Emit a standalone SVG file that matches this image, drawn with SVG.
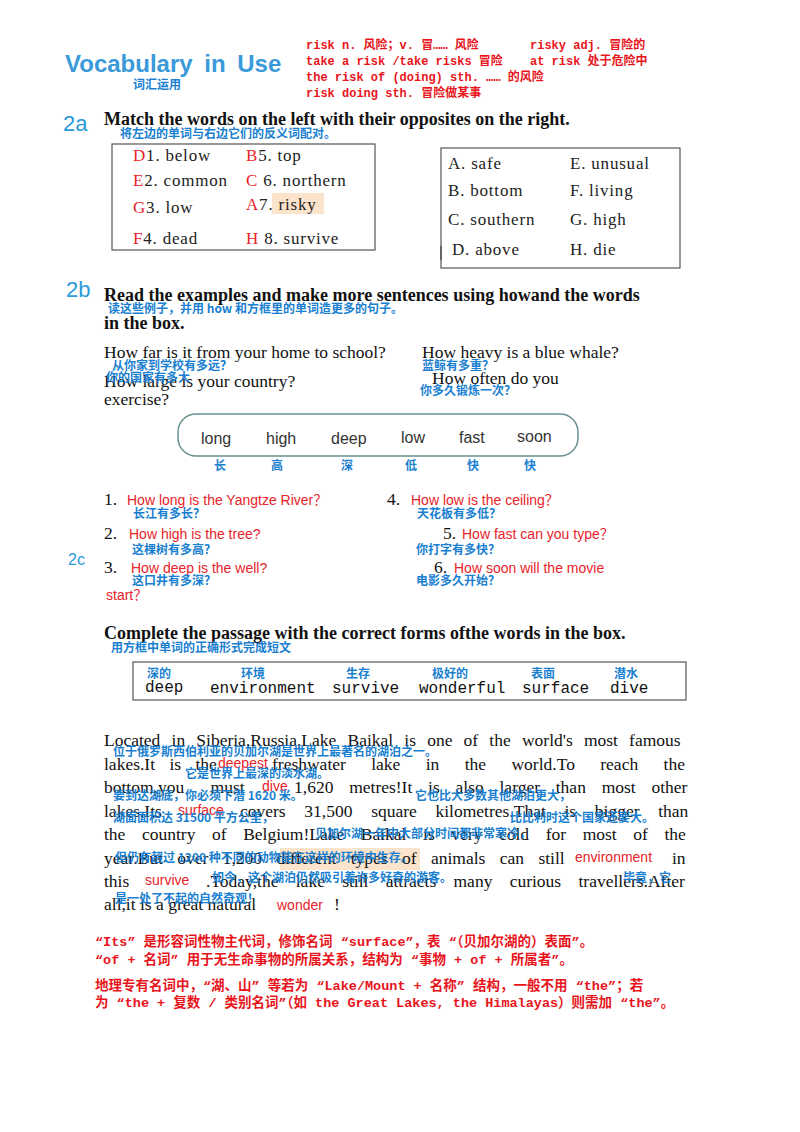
<svg xmlns="http://www.w3.org/2000/svg" width="800" height="1132" viewBox="0 0 800 1132">
<style>
.bg{fill:#fff}
.t{font-family:"Liberation Sans",Arial,sans-serif}
.serif{font-family:"Liberation Serif","Times New Roman",serif;fill:#111}
.bold{font-weight:bold}
.cn{font-family:"Noto Sans CJK SC",sans-serif;font-weight:bold;font-size:12px;fill:#1a7fd0}
.note{font-family:"Liberation Mono","Noto Sans CJK SC",monospace;font-weight:bold;font-size:12px;fill:#e8141b}
.note2{font-family:"Liberation Mono","Noto Sans CJK SC",monospace;font-weight:bold;font-size:13.5px;fill:#e8141b}
.ans{font-family:"Liberation Sans","Noto Sans CJK SC",sans-serif;font-size:14px;fill:#e8232a}
.song{font-family:"Liberation Serif","Noto Sans CJK SC",serif;font-size:17px;fill:#222;letter-spacing:0.8px}
.red{fill:#e8232a}
.box{fill:none;stroke:#555;stroke-width:1.2}
.num{font-family:"Liberation Sans",sans-serif;fill:#2a9ad8}
.pw{font-family:"Liberation Sans",sans-serif;font-size:16px;fill:#333}
.mono{font-family:"Liberation Mono",monospace;font-size:16px;fill:#111}
.p{font-family:"Liberation Serif","Times New Roman",serif;font-size:17.5px;fill:#111}
</style>
<rect class="bg" width="800" height="1132"/>

<g id="header">
<text class="t bold" x="65" y="72" font-size="24" fill="#3a9ad9" word-spacing="5">Vocabulary in Use</text>
<text class="cn" x="133" y="89">词汇运用</text>
<text class="note" x="306" y="49">risk n. 风险；v. 冒…… 风险</text>
<text class="note" x="530" y="49">risky adj. 冒险的</text>
<text class="note" x="306" y="65">take a risk /take risks 冒险</text>
<text class="note" x="530" y="65">at risk 处于危险中</text>
<text class="note" x="306" y="81">the risk of (doing) sth. …… 的风险</text>
<text class="note" x="306" y="97">risk doing sth. 冒险做某事</text>
</g>

<g id="sec2a">
<text class="num" x="63" y="131" font-size="22">2a</text>
<text class="serif bold" x="104" y="125" font-size="18">Match the words on the left with their opposites on the right.</text>
<text class="cn" x="120" y="138">将左边的单词与右边它们的反义词配对。</text>
</g>
<g id="leftbox">
<rect class="box" x="112" y="144" width="263" height="106"/>
<rect x="272" y="193" width="52" height="21" fill="#fbe3cc"/>
<text class="song" x="133" y="161"><tspan class="red">D</tspan>1. below</text>
<text class="song" x="133" y="186"><tspan class="red">E</tspan>2. common</text>
<text class="song" x="133" y="213"><tspan class="red">G</tspan>3. low</text>
<text class="song" x="133" y="244"><tspan class="red">F</tspan>4. dead</text>
<text class="song" x="246" y="161"><tspan class="red">B</tspan>5. top</text>
<text class="song" x="246" y="186"><tspan class="red">C</tspan> 6. northern</text>
<text class="song" x="246" y="210"><tspan class="red">A</tspan>7. risky</text>
<text class="song" x="246" y="244"><tspan class="red">H</tspan> 8. survive</text>
</g>
<g id="rightbox">
<rect class="box" x="441" y="148" width="239" height="120"/>
<line x1="441" y1="246" x2="441" y2="260" stroke="#333"/>
<text class="song" x="448" y="169">A. safe</text>
<text class="song" x="448" y="196">B. bottom</text>
<text class="song" x="448" y="225">C. southern</text>
<text class="song" x="452" y="255">D. above</text>
<text class="song" x="570" y="169">E. unusual</text>
<text class="song" x="570" y="196">F. living</text>
<text class="song" x="570" y="225">G. high</text>
<text class="song" x="570" y="255">H. die</text>
</g>

<g id="sec2b">
<text class="num" x="66" y="297" font-size="22">2b</text>
<text class="serif bold" x="104" y="301" font-size="18">Read the examples and make more sentences using howand the words</text>
<text class="cn" x="108" y="313">读这些例子，并用 how 和方框里的单词造更多的句子。</text>
<text class="serif bold" x="104" y="329" font-size="18">in the box.</text>
<text class="serif" x="104" y="358" font-size="17.5">How far is it from your home to school?</text>
<text class="serif" x="422" y="358" font-size="17.5">How heavy is a blue whale?</text>
<text class="cn" x="112" y="370">从你家到学校有多远？</text>
<text class="cn" x="422" y="370">蓝鲸有多重？</text>
<text class="serif" x="104" y="387" font-size="17.5">How large is your country?</text>
<text class="cn" x="106" y="382">你的国家有多大</text>
<text class="serif" x="432" y="384" font-size="17.5">How often do you</text>
<text class="cn" x="420" y="395">你多久锻炼一次？</text>
<text class="serif" x="104" y="405" font-size="17.5">exercise?</text>
</g>
<g id="wordbox">
<rect x="178" y="414" width="400" height="42" rx="18" fill="none" stroke="#6a9090" stroke-width="1.5"/>
<text class="pw" x="201" y="444">long</text>
<text class="pw" x="266" y="444">high</text>
<text class="pw" x="331" y="444">deep</text>
<text class="pw" x="401" y="443">low</text>
<text class="pw" x="459" y="443">fast</text>
<text class="pw" x="517" y="442">soon</text>
<text class="cn" x="214" y="470">长</text>
<text class="cn" x="271" y="470">高</text>
<text class="cn" x="341" y="470">深</text>
<text class="cn" x="405" y="470">低</text>
<text class="cn" x="467" y="470">快</text>
<text class="cn" x="524" y="470">快</text>
</g>
<g id="answers2b">
<text class="serif" x="104" y="505" font-size="17.5">1.</text>
<text class="ans" x="127" y="505">How long is the Yangtze River？</text>
<text class="cn" x="133" y="518">长江有多长？</text>
<text class="serif" x="387" y="505" font-size="17.5">4.</text>
<text class="ans" x="411" y="505">How low is the ceiling？</text>
<text class="cn" x="417" y="518">天花板有多低？</text>
<text class="serif" x="104" y="539" font-size="17.5">2.</text>
<text class="ans" x="129" y="539">How high is the tree?</text>
<text class="cn" x="132" y="554">这棵树有多高？</text>
<text class="serif" x="443" y="539" font-size="17.5">5.</text>
<text class="ans" x="462" y="539">How fast can you type？</text>
<text class="cn" x="416" y="554">你打字有多快？</text>
<text class="num" x="68" y="565" font-size="16">2c</text>
<text class="serif" x="104" y="573" font-size="17.5">3.</text>
<text class="ans" x="131" y="573">How deep is the well?</text>
<text class="cn" x="132" y="585">这口井有多深？</text>
<text class="serif" x="434" y="573" font-size="17.5">6.</text>
<text class="ans" x="454" y="573">How soon will the movie</text>
<text class="cn" x="416" y="585">电影多久开始？</text>
<text class="ans" x="106" y="600">start？</text>
</g>

<g id="sec2c">
<text class="serif bold" x="104" y="639" font-size="18">Complete the passage with the correct forms ofthe words in the box.</text>
<text class="cn" x="111" y="652">用方框中单词的正确形式完成短文</text>
<rect class="box" x="133" y="662" width="553" height="38"/>
<text class="cn" x="147" y="678">深的</text>
<text class="cn" x="241" y="678">环境</text>
<text class="cn" x="346" y="678">生存</text>
<text class="cn" x="432" y="678">极好的</text>
<text class="cn" x="531" y="678">表面</text>
<text class="cn" x="614" y="678">潜水</text>
<text class="mono" x="145" y="692">deep</text>
<text class="mono" x="210" y="693">environment</text>
<text class="mono" x="332" y="693">survive</text>
<text class="mono" x="419" y="693">wonderful</text>
<text class="mono" x="522" y="693">surface</text>
<text class="mono" x="610" y="693">dive</text>
</g>

<g id="passage">
<rect x="280" y="848" width="140" height="22" fill="#fbe3cc"/>
<text class="p" x="104" y="746" word-spacing="6.8">Located in Siberia,Russia,Lake Baikal is one of the world's most famous</text>
<text class="p" x="104" y="770" word-spacing="10">lakes.It is the</text>
<text class="ans" x="218" y="768">deepest</text>
<text class="p" x="272" y="770" word-spacing="21">freshwater lake in the world.To reach the</text>
<text class="p" x="104" y="793" word-spacing="22">bottom,you must</text>
<text class="ans" x="262" y="791">dive</text>
<text class="p" x="294" y="793" word-spacing="11.4">1,620 metres!It is also larger than most other</text>
<text class="p" x="104" y="817">lakes.Its</text>
<text class="ans" x="178" y="815">surface</text>
<text class="p" x="240" y="817" word-spacing="14.3">covers 31,500 square kilometres.That is bigger than</text>
<text class="p" x="104" y="840" word-spacing="12.2">the country of Belgium!Lake Baikal is very cold for most of the</text>
<text class="p" x="104" y="864" word-spacing="10">year.But over 1,200 different types of animals can still</text>
<text class="ans" x="575" y="862">environment</text>
<text class="p" x="672" y="864">in</text>
<text class="p" x="104" y="887">this</text>
<text class="ans" x="145" y="885">survive</text>
<text class="p" x="206" y="887" word-spacing="12.9">.Today,the lake still attracts many curious travellers.After</text>
<text class="p" x="104" y="910">all,it is a great natural</text>
<text class="ans" x="277" y="910">wonder</text>
<text class="p" x="334" y="910">!</text>
<text class="cn" x="113" y="756">位于俄罗斯西伯利亚的贝加尔湖是世界上最著名的湖泊之一。</text>
<text class="cn" x="185" y="778">它是世界上最深的淡水湖。</text>
<text class="cn" x="113" y="800">要到达湖底，你必须下潜 1620 米。</text>
<text class="cn" x="415" y="800">它也比大多数其他湖泊更大，</text>
<text class="cn" x="113" y="822">湖面面积达 31500 平方公里，</text>
<text class="cn" x="510" y="822">比比利时这个国家还要大。</text>
<text class="cn" x="315" y="838">贝加尔湖一年中大部分时间都非常寒冷，</text>
<text class="cn" x="115" y="862">但仍有超过 1200 种不同的动物能在这样的环境中生存。</text>
<text class="cn" x="212" y="882">如今，这个湖泊仍然吸引着许多好奇的游客。</text>
<text class="cn" x="623" y="882">毕竟，它</text>
<text class="cn" x="115" y="903">是一处了不起的自然奇观！</text>
</g>

<g id="notes">
<text class="note2" x="95" y="946">“Its” 是形容词性物主代词，修饰名词 “surface”，表 “（贝加尔湖的）表面”。</text>
<text class="note2" x="95" y="964">“of + 名词” 用于无生命事物的所属关系，结构为 “事物 + of + 所属者”。</text>
<text class="note2" x="95" y="990">地理专有名词中，“湖、山” 等若为 “Lake/Mount + 名称” 结构，一般不用 “the”；若</text>
<text class="note2" x="95" y="1007">为 “the + 复数 / 类别名词”（如 the Great Lakes, the Himalayas）则需加 “the”。</text>
</g>
<g id="connectors"/>
</svg>
